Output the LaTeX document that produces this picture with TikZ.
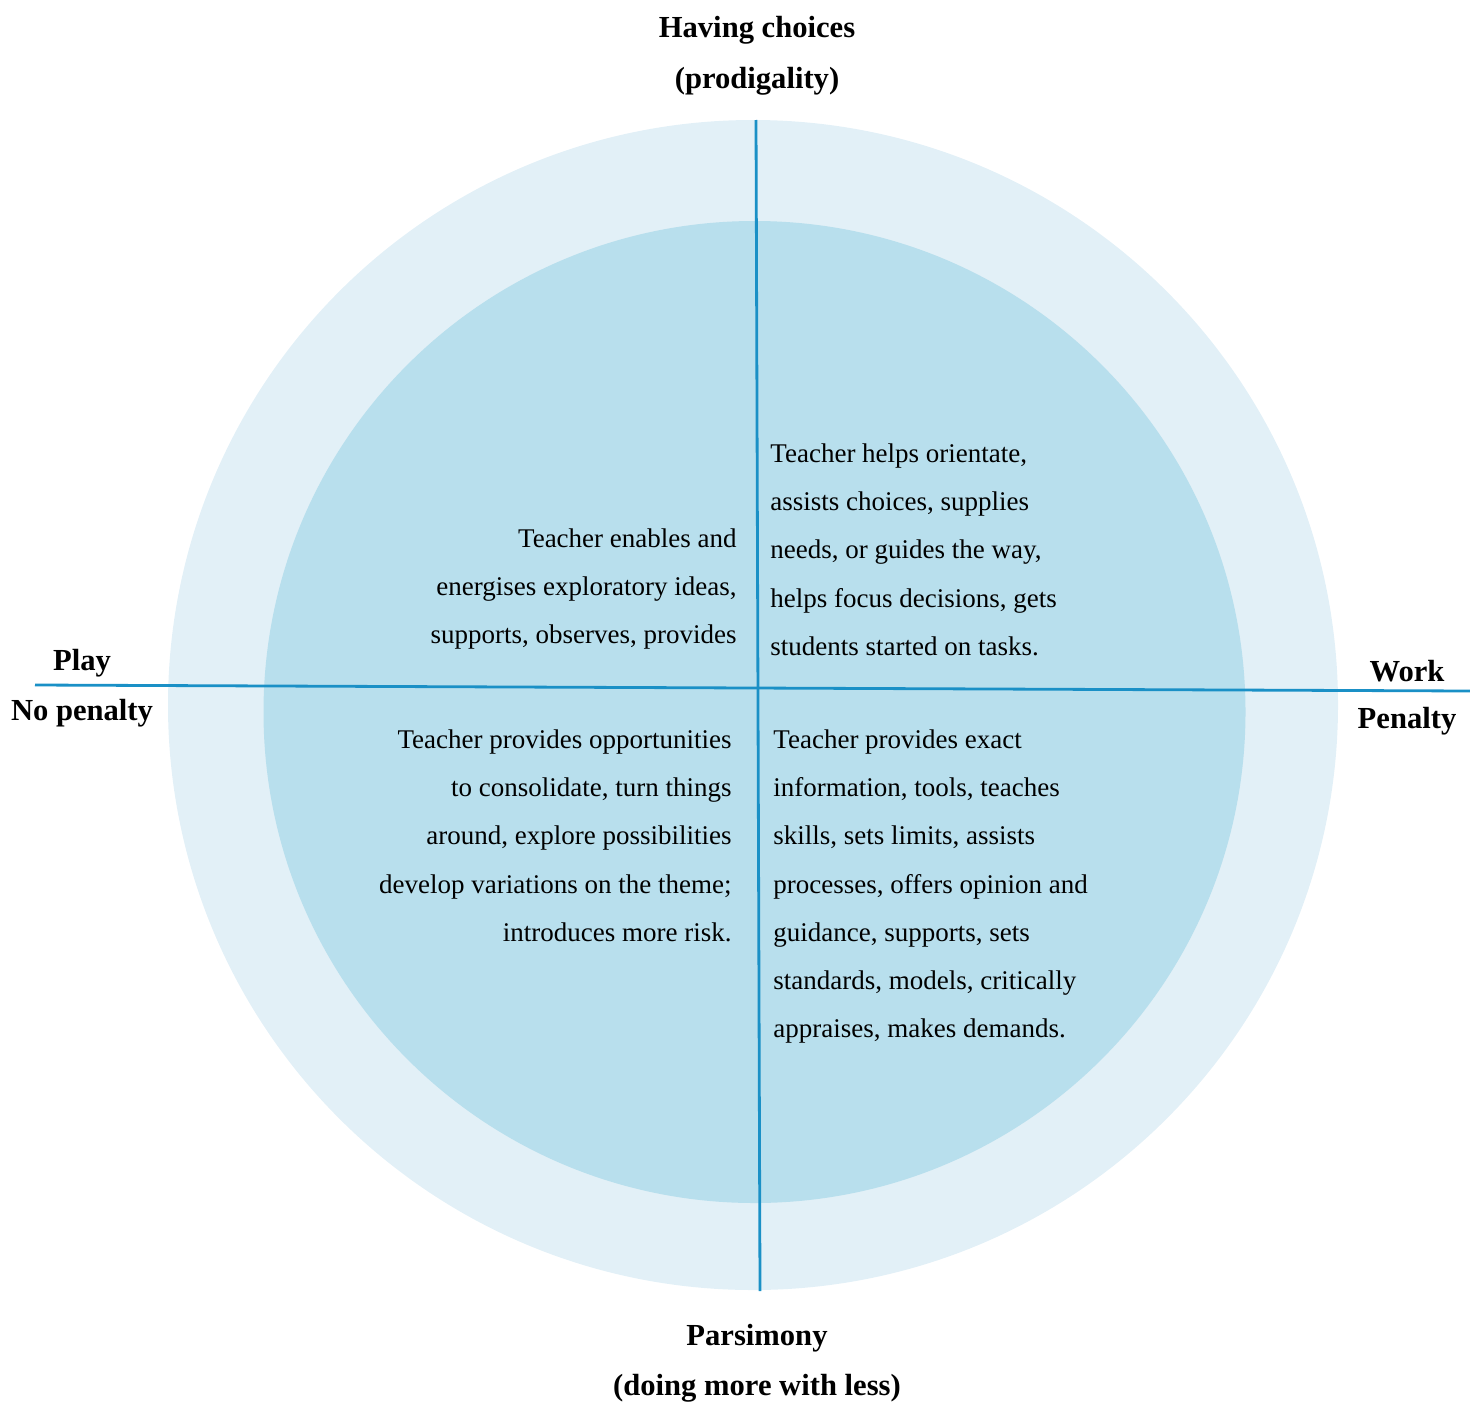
\documentclass[tikz,border=0pt]{standalone}
\usepackage{fontspec}
\setmainfont{Liberation Serif}
\definecolor{outerc}{HTML}{E2F0F7}
\definecolor{innerc}{HTML}{B8DFED}
\definecolor{axisc}{HTML}{1A90C6}
\tikzset{
  head/.style={font=\fontsize{15.3}{25}\selectfont\bfseries, inner sep=0pt, align=center},
  body/.style={font=\fontsize{13.5}{24.15}\selectfont, inner sep=0pt},
  axis/.style={draw=axisc, line width=1.4pt},
}
\begin{document}
\begin{tikzpicture}[x=0.5pt,y=-0.5pt]
\useasboundingbox (0,0) rectangle (1470,1402);
\fill[outerc] (753,705) circle[radius=292.5pt];
\fill[innerc] (754.5,712) circle[radius=245.5pt];
\coordinate (top) at (756,120);
\coordinate (bottom) at (760,1291);
\coordinate (left) at (35,685);
\coordinate (right) at (1470,691);
\draw[axis] (top) -- (bottom);
\draw[axis] (left) -- (right);
\node[head] (hc) at (757,30) {Having choices};
\node[head] (prod) at (757,81) {(prodigality)};
\node[head] (play) at (82,663) {Play};
\node[head] (nopen) at (82,713) {No penalty};
\node[head] (work) at (1407,671) {Work};
\node[head] (pen) at (1407,721) {Penalty};
\node[head] (pars) at (757,1338) {Parsimony};
\node[head] (less) at (757,1388) {(doing more with less)};
\node[body, anchor=north east, align=right] (ul) at (737,528) {Teacher enables and\\energises exploratory ideas,\\supports, observes, provides};
\node[body, anchor=north west, align=left] (ur) at (770,443) {Teacher helps orientate,\\assists choices, supplies\\needs, or guides the way,\\helps focus decisions, gets\\students started on tasks.};
\node[body, anchor=north east, align=right] (ll) at (732,729) {Teacher provides opportunities\\to consolidate, turn things\\around, explore possibilities\\develop variations on the theme;\\introduces more risk.};
\node[body, anchor=north west, align=left] (lr) at (773,729) {Teacher provides exact\\information, tools, teaches\\skills, sets limits, assists\\processes, offers opinion and\\guidance, supports, sets\\standards, models, critically\\appraises, makes demands.};
\end{tikzpicture}
\end{document}
